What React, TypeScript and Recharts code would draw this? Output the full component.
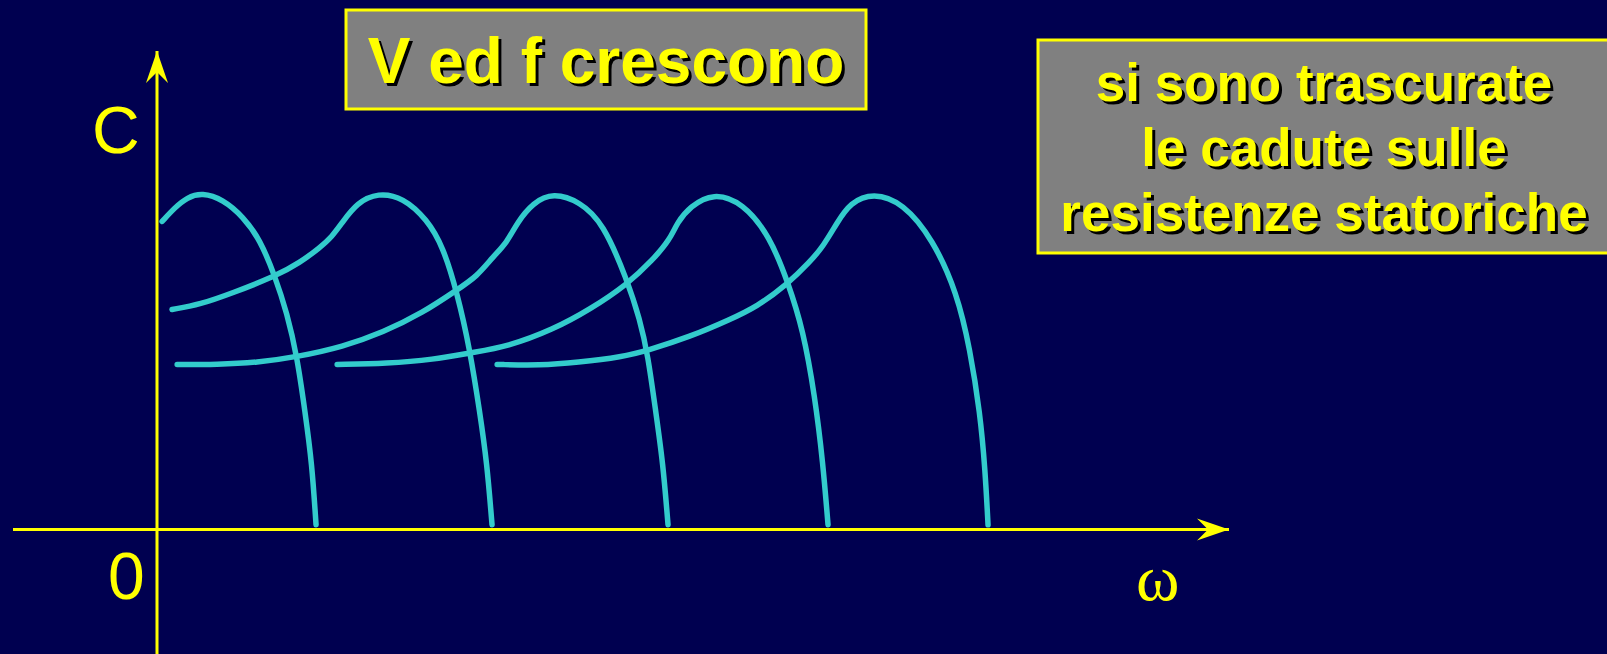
import React from "react";
import { LineChart, Line, XAxis, YAxis, ReferenceLine, ReferenceDot } from "recharts";

// speed (ω) and torque (C), one pair of arrays per curve
const w1 = [1.6, 5.6, 9.4, 14.1, 20.6, 26.9, 32.2, 36.9, 40.6, 43.8, 46.3, 48.4, 49.7];
const c1 = [64.4, 67.3, 69.4, 70.4, 69.0, 65.4, 60.6, 52.9, 45.3, 36.1, 24.4, 14.0, 1.0];

const w2 = [4.7, 13.4, 23.8, 36.9, 44.7, 50.9, 54.7, 57.8, 62.5, 69.1, 76.9, 84.4, 89.4, 93.8, 97.8, 100.9, 103.1, 104.7];
const c2 = [46.0, 47.0, 49.5, 52.9, 55.8, 58.9, 61.2, 64.1, 68.3, 70.4, 69.4, 64.8, 59.1, 49.5, 37.6, 24.4, 14.0, 1.0];

const w3 = [6.3, 18.8, 31.3, 43.8, 58.1, 70.6, 83.1, 93.8, 100.0, 105.0, 109.4, 112.5, 117.5, 123.8, 132.2, 139.4, 146.9, 150.9, 153.4, 155.9, 158.1, 159.7];
const c3 = [34.5, 34.5, 34.9, 36.1, 38.2, 41.2, 45.3, 50.1, 52.9, 57.0, 60.0, 64.1, 68.3, 70.4, 68.5, 64.1, 52.2, 43.9, 36.5, 24.4, 14.0, 1.0];

const w4 = [56.3, 71.9, 86.3, 98.4, 109.4, 123.8, 135.3, 146.9, 155.0, 160.3, 162.5, 166.6, 173.8, 183.1, 191.6, 197.2, 201.9, 205.6, 208.1, 209.7];
const c4 = [34.5, 34.7, 35.5, 37.0, 38.2, 41.8, 46.0, 51.2, 56.4, 60.6, 64.1, 67.5, 70.4, 68.3, 61.2, 51.6, 41.8, 27.8, 14.0, 1.0];

const w5 = [106.3, 119.7, 131.3, 145.6, 153.1, 166.6, 179.1, 187.5, 196.9, 204.1, 208.1, 212.5, 216.6, 223.8, 233.1, 242.5, 250.0, 254.1, 257.2, 258.8, 259.7];
const c5 = [34.5, 34.3, 34.9, 36.1, 37.4, 40.3, 43.9, 46.6, 51.2, 56.0, 59.1, 64.1, 68.3, 70.4, 68.3, 60.6, 49.5, 37.6, 24.4, 12.5, 1.0];

const title = "V ed f crescono";
const noteLines = ["si sono trascurate", "le cadute sulle", "resistenze statoriche"];

const BG = "#000050";
const YELLOW = "#ffff00";
const CYAN = "#33cccc";
const FONT = "'Liberation Sans', Arial, sans-serif";

const zip = (w: number[], c: number[]) => w.map((v, i) => ({ w: v, c: c[i] }));
const curves = [zip(w1, c1), zip(w2, c2), zip(w3, c3), zip(w4, c4), zip(w5, c5)];

const ArrowRight = (p: any) => (
  <polygon
    points={`${p.cx},${p.cy} ${p.cx - 32},${p.cy - 11} ${p.cx - 21},${p.cy} ${p.cx - 32},${p.cy + 11}`}
    fill={YELLOW}
  />
);

const ArrowUp = (p: any) => (
  <polygon
    points={`${p.cx},${p.cy} ${p.cx - 11},${p.cy + 32} ${p.cx},${p.cy + 21} ${p.cx + 11},${p.cy + 32}`}
    fill={YELLOW}
  />
);

function ShadowText({ x, y, size, anchor, children }: any) {
  return (
    <g fontFamily={FONT} fontWeight="bold" fontSize={size} textAnchor={anchor}>
      <text x={x + 3} y={y + 3} fill="#000000">{children}</text>
      <text x={x} y={y} fill={YELLOW}>{children}</text>
    </g>
  );
}

export default function App() {
  return (
    <div style={{ position: "absolute", left: 0, top: 0, width: 1607, height: 654, background: BG, overflow: "hidden" }}>
      <LineChart width={1607} height={654} margin={{ top: 51, right: 378, bottom: 0, left: 13 }}>
        <XAxis type="number" dataKey="w" domain={[-45, 335]} hide allowDataOverflow />
        <YAxis type="number" dataKey="c" domain={[-26, 100]} hide allowDataOverflow />
        <ReferenceLine y={0} stroke={YELLOW} strokeWidth={3} />
        <ReferenceLine x={0} stroke={YELLOW} strokeWidth={3} />
        <ReferenceDot x={335} y={0} shape={ArrowRight} />
        <ReferenceDot x={0} y={100} shape={ArrowUp} />
        {curves.map((d, i) => (
          <Line
            key={i}
            data={d}
            dataKey="c"
            type="basis"
            stroke={CYAN}
            strokeWidth={5.5}
            strokeLinecap="round"
            strokeLinejoin="round"
            dot={false}
            activeDot={false}
            isAnimationActive={false}
          />
        ))}
      </LineChart>
      <svg width={1607} height={654} style={{ position: "absolute", left: 0, top: 0, pointerEvents: "none" }}>
        <text x={92} y={153} fontFamily={FONT} fontSize={66} fill={YELLOW}>C</text>
        <text x={108} y={599} fontFamily={FONT} fontSize={66} fill={YELLOW}>0</text>
        <text x={1136} y={600} fontFamily="'Liberation Serif', 'Times New Roman', serif" fontSize={66} fill={YELLOW}>ω</text>

        <rect x={346} y={10} width={520} height={99} fill="#808080" stroke={YELLOW} strokeWidth={3} />
        <ShadowText x={606} y={83} size={64} anchor="middle">{title}</ShadowText>

        <rect x={1038} y={40} width={580} height={213} fill="#808080" stroke={YELLOW} strokeWidth={3} />
        {noteLines.map((t, i) => (
          <ShadowText key={i} x={1324} y={101 + i * 65} size={53} anchor="middle">{t}</ShadowText>
        ))}
      </svg>
    </div>
  );
}
